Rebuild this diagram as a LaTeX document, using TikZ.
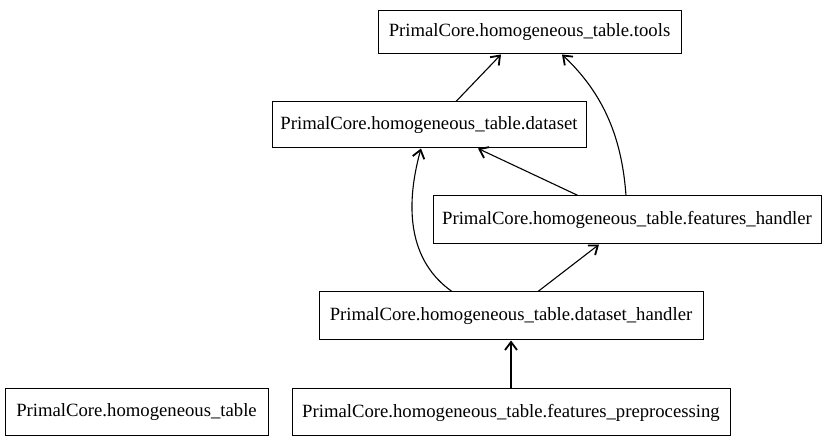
\documentclass[tikz,border=0pt]{standalone}
\usepackage{fontspec}
\setmainfont{Liberation Serif}
\usetikzlibrary{arrows.meta}
\begin{document}
\begin{tikzpicture}[x=1pt,y=-1pt,
  mod/.style={draw,line width=1pt,inner sep=0pt,font=\fontsize{18.7}{22}\selectfont,anchor=center},
  dep/.style={line width=1.1pt,-{Straight Barb[length=8pt,width=12pt,line width=1.8pt]}}]
\useasboundingbox (0,0) rectangle (828,443);
\node[mod,minimum width=303,minimum height=43] (tools) at (529.5,32.5) {PrimalCore.homogeneous\_table.tools};
\node[mod,minimum width=314,minimum height=46] (ds) at (429,125) {PrimalCore.homogeneous\_table.dataset};
\node[mod,minimum width=388,minimum height=48] (fh) at (627,220) {PrimalCore.homogeneous\_table.features\_handler};
\node[mod,minimum width=384,minimum height=48] (dh) at (511,316) {PrimalCore.homogeneous\_table.dataset\_handler};
\node[mod,minimum width=263,minimum height=47] (ht) at (136.5,412.5) {PrimalCore.homogeneous\_table};
\node[mod,minimum width=438,minimum height=47] (fp) at (511,412.5) {PrimalCore.homogeneous\_table.features\_preprocessing};
\coordinate (a1) at (456,101.5);
\coordinate (a2) at (501,54.5);
\draw[dep] (a1) -- (a2);
\coordinate (b1) at (626,195.5);
\coordinate (b2) at (562,54.5);
\draw[dep] (b1) .. controls (622,140) and (605,95) .. (b2);
\coordinate (c1) at (578,195.5);
\coordinate (c2) at (478,148.5);
\draw[dep] (c1) -- (c2);
\coordinate (d1) at (452,291.5);
\coordinate (d2) at (421,148.5);
\draw[dep] (d1) .. controls (410,262) and (404,210) .. (d2);
\coordinate (e1) at (538,291.5);
\coordinate (e2) at (599,244.5);
\draw[dep] (e1) -- (e2);
\draw[dep] (fp.north) -- (dh.south);
\end{tikzpicture}
\end{document}
